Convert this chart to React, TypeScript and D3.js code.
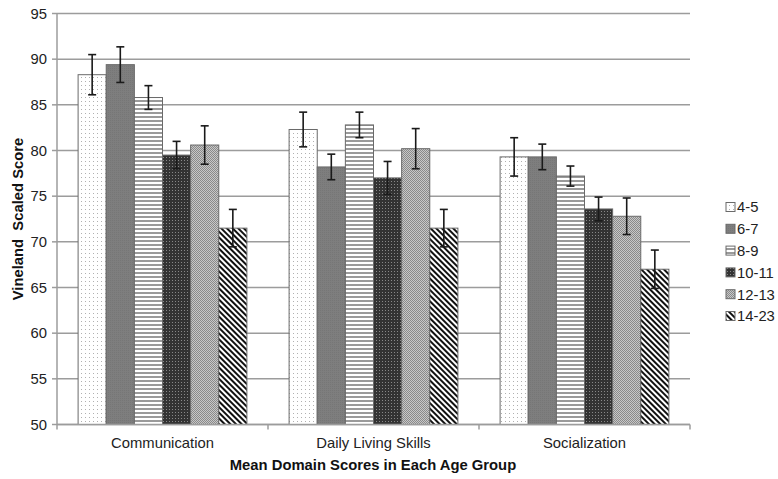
import React from "react";
import * as d3 from "d3";

const categories = ["Communication", "Daily Living Skills", "Socialization"];
const groups = ["4-5", "6-7", "8-9", "10-11", "12-13", "14-23"];
const means: number[][] = [
  [88.3, 89.4, 85.8, 79.5, 80.6, 71.5],
  [82.3, 78.2, 82.8, 77.0, 80.2, 71.5],
  [79.3, 79.3, 77.2, 73.6, 72.8, 67.0],
];
const errors: number[][] = [
  [2.2, 1.95, 1.3, 1.5, 2.1, 2.05],
  [1.9, 1.4, 1.4, 1.8, 2.2, 2.05],
  [2.1, 1.4, 1.1, 1.3, 2.0, 2.1],
];
const yTicks = [50, 55, 60, 65, 70, 75, 80, 85, 90, 95];

const W = 778;
const H = 479;
const left = 57;
const right = 690;
const top = 13.5;
const bottom = 424.5;
const font = "'Liberation Sans', Arial, sans-serif";
const fs = 14.8;

const patternIds = ["p45", "p67", "p89", "p1011", "p1213", "p1423"];

export default function App() {
  const x = d3
    .scaleBand<string>()
    .domain(categories)
    .range([left, right])
    .paddingInner(0.2)
    .paddingOuter(0.1);
  const xi = d3.scaleBand<string>().domain(groups).range([0, x.bandwidth()]);
  const y = d3.scaleLinear().domain([50, 95]).range([bottom, top]);

  return (
    <div style={{ position: "absolute", left: 0, top: 0 }}>
      <svg width={W} height={H} style={{ display: "block", background: "#fff" }}>
        <defs>
          <pattern id="p45" patternUnits="userSpaceOnUse" width={4} height={4}>
            <rect width={4} height={4} fill="#fff" />
            <rect x={1} y={1} width={1} height={1} fill="#b0b0b0" />
          </pattern>
          <pattern id="p67" patternUnits="userSpaceOnUse" width={2} height={2}>
            <rect width={2} height={2} fill="#7e7e7e" />
            <rect width={1} height={1} fill="#767676" />
          </pattern>
          <pattern id="p89" patternUnits="userSpaceOnUse" width={4} height={4}>
            <rect width={4} height={4} fill="#fff" />
            <rect y={0} width={4} height={2} fill="#9a9a9a" />
          </pattern>
          <pattern id="p1011" patternUnits="userSpaceOnUse" width={3} height={3}>
            <rect width={3} height={3} fill="#333" />
            <rect x={1} y={1} width={1} height={1} fill="#888" />
          </pattern>
          <pattern id="p1213" patternUnits="userSpaceOnUse" width={2} height={2}>
            <rect width={2} height={2} fill="#c8c8c8" />
            <rect width={1} height={1} fill="#8a8a8a" />
            <rect x={1} y={1} width={1} height={1} fill="#8a8a8a" />
          </pattern>
          <pattern
            id="p1423"
            patternUnits="userSpaceOnUse"
            width={4}
            height={4}
            patternTransform="rotate(45)"
          >
            <rect width={4} height={4} fill="#fff" />
            <rect width={4} height={2} fill="#111" />
          </pattern>
        </defs>

        {yTicks.map((t) => (
          <line
            key={"g" + t}
            x1={left}
            x2={right}
            y1={y(t)}
            y2={y(t)}
            stroke="#9c9c9c"
            strokeWidth={1.5}
          />
        ))}
        <line x1={left} x2={left} y1={top} y2={bottom} stroke="#9c9c9c" strokeWidth={1.5} />
        {yTicks.map((t) => (
          <g key={"t" + t}>
            <line x1={left - 5} x2={left} y1={y(t)} y2={y(t)} stroke="#9c9c9c" strokeWidth={1.5} />
            <text
              x={left - 10}
              y={y(t)}
              dy="0.36em"
              textAnchor="end"
              fontFamily={font}
              fontSize={fs}
              fill="#222"
            >
              {t}
            </text>
          </g>
        ))}
        {[left, ...categories.map((c) => (x(c) as number) + x.bandwidth() + x.step() * 0.1)].map((v, i) => (
          <line key={"xt" + i} x1={v} x2={v} y1={bottom} y2={bottom + 5} stroke="#9c9c9c" strokeWidth={1.5} />
        ))}

        {categories.map((c, ci) =>
          groups.map((g, gi) => {
            const bx = (x(c) as number) + (xi(g) as number);
            const v = means[ci][gi];
            const e = errors[ci][gi];
            const cx = bx + xi.bandwidth() / 2;
            return (
              <g key={c + g}>
                <rect
                  x={bx}
                  y={y(v)}
                  width={xi.bandwidth()}
                  height={y(50) - y(v)}
                  fill={`url(#${patternIds[gi]})`}
                  stroke="#6a6a6a"
                  strokeWidth={1}
                />
                <line x1={cx} x2={cx} y1={y(v + e)} y2={y(v - e)} stroke="#1a1a1a" strokeWidth={1.6} />
                <line x1={cx - 4} x2={cx + 4} y1={y(v + e)} y2={y(v + e)} stroke="#1a1a1a" strokeWidth={1.6} />
                <line x1={cx - 4} x2={cx + 4} y1={y(v - e)} y2={y(v - e)} stroke="#1a1a1a" strokeWidth={1.6} />
              </g>
            );
          })
        )}
        <line x1={left} x2={right} y1={bottom} y2={bottom} stroke="#9c9c9c" strokeWidth={1.5} />

        {categories.map((c) => (
          <text
            key={"c" + c}
            x={(x(c) as number) + x.bandwidth() / 2}
            y={448}
            textAnchor="middle"
            fontFamily={font}
            fontSize={fs}
            fill="#222"
          >
            {c}
          </text>
        ))}
        <text
          x={373}
          y={470}
          textAnchor="middle"
          fontFamily={font}
          fontSize={fs}
          fontWeight="bold"
          fill="#111"
        >
          Mean Domain Scores in Each Age Group
        </text>
        <text
          transform={`translate(23, ${y(72.5)}) rotate(-90)`}
          textAnchor="middle"
          fontFamily={font}
          fontSize={fs}
          fontWeight="bold"
          fill="#111"
          style={{ whiteSpace: "pre" }}
        >
          {"Vineland  Scaled Score"}
        </text>

        {groups.map((g, gi) => {
          const ly = 207 + gi * 21.8;
          return (
            <g key={"l" + g}>
              <rect
                x={726}
                y={ly - 4.5}
                width={9}
                height={9}
                fill={`url(#${patternIds[gi]})`}
                stroke="#6a6a6a"
                strokeWidth={1}
              />
              <text x={737} y={ly} dy="0.36em" fontFamily={font} fontSize={fs} fill="#222">
                {g}
              </text>
            </g>
          );
        })}
      </svg>
    </div>
  );
}
